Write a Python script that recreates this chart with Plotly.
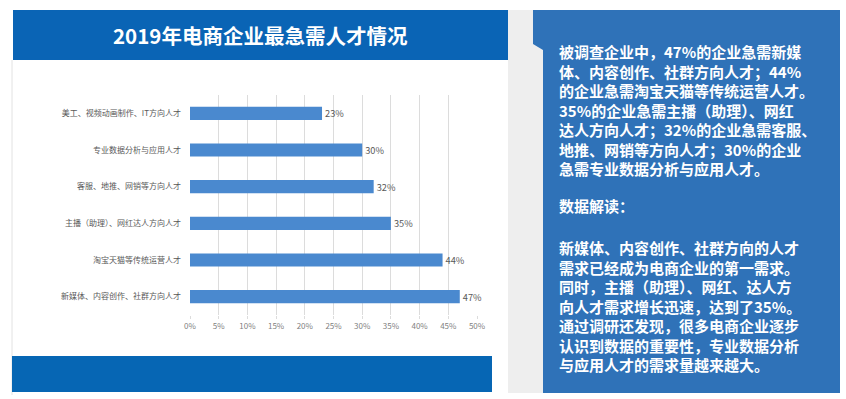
import plotly.graph_objects as go

categories = [
    "美工、视频动画制作、IT方向人才",
    "专业数据分析与应用人才",
    "客服、地推、网销等方向人才",
    "主播（助理）、网红达人方向人才",
    "淘宝天猫等传统运营人才",
    "新媒体、内容创作、社群方向人才",
]
values = [23, 30, 32, 35, 44, 47]
x_ticks = [0, 5, 10, 15, 20, 25, 30, 35, 40, 45, 50]
x_tick_labels = ["0%", "5%", "10%", "15%", "20%", "25%", "30%", "35%", "40%", "45%", "50%"]

title_text = "2019年电商企业最急需人才情况"
panel_lines_1 = [
    "被调查企业中，47%的企业急需新媒",
    "体、内容创作、社群方向人才；44%",
    "的企业急需淘宝天猫等传统运营人才。",
    "35%的企业急需主播（助理）、网红",
    "达人方向人才；32%的企业急需客服、",
    "地推、网销等方向人才；30%的企业",
    "急需专业数据分析与应用人才。",
]
panel_heading = "数据解读："
panel_lines_2 = [
    "新媒体、内容创作、社群方向的人才",
    "需求已经成为电商企业的第一需求。",
    "同时，主播（助理）、网红、达人方",
    "向人才需求增长迅速，达到了35%。",
    "通过调研还发现，很多电商企业逐步",
    "认识到数据的重要性，专业数据分析",
    "与应用人才的需求量越来越大。",
]

W, H = 846, 399
L, R, T, B = 190, 477, 95, 315  # plot area in pixels

def px(x):
    return (x - L) / (R - L)

def py(y):
    return (B - y) / (B - T)

FONT = "Noto Sans CJK SC"

fig = go.Figure()
fig.add_trace(go.Bar(
    y=categories, x=values, orientation="h",
    marker=dict(color="#4a89cf", line=dict(width=0)),
    width=0.36,
    text=[f"{v}%" for v in values], textposition="outside",
    textfont=dict(size=10.5, color="#595959", family=FONT),
    cliponaxis=False,
))

shapes = []
shapes.append(dict(type="rect", xref="paper", yref="paper", layer="below",
                   x0=px(508), x1=px(545), y0=py(393), y1=py(10),
                   fillcolor="#eeeeee", line=dict(width=0)))
shapes.append(dict(type="line", xref="paper", yref="paper", layer="below",
                   x0=px(12), x1=px(12), y0=py(395), y1=py(60),
                   line=dict(color="#e2e2e2", width=1)))
shapes.append(dict(type="rect", xref="paper", yref="paper", layer="below",
                   x0=px(13), x1=px(508), y0=py(60), y1=py(10),
                   fillcolor="#0a64b5", line=dict(width=0)))
shapes.append(dict(type="rect", xref="paper", yref="paper", layer="below",
                   x0=px(12), x1=px(492), y0=py(392), y1=py(356),
                   fillcolor="#0666b4", line=dict(width=0)))
pts = [(533, 10), (840, 10), (840, 393), (543, 393), (543, 50), (533, 44)]
path = "M " + " L ".join(f"{px(a):.5f},{py(b):.5f}" for a, b in pts) + " Z"
shapes.append(dict(type="path", xref="paper", yref="paper", layer="below",
                   path=path, fillcolor="#2f72b8", line=dict(width=0)))

panel_font = dict(size=15, color="white", family=FONT, weight="bold")
annotations = [
    dict(xref="paper", yref="paper", x=px(260), y=py(35),
         text=title_text, showarrow=False, xanchor="center", yanchor="middle",
         font=dict(size=20.5, color="white", family=FONT, weight="bold")),
    dict(xref="paper", yref="paper", x=px(557), y=py(110),
         text="<br>".join(panel_lines_1), showarrow=False, xanchor="left",
         yanchor="middle", align="left", font=panel_font),
    dict(xref="paper", yref="paper", x=px(557), y=py(205),
         text=panel_heading, showarrow=False, xanchor="left", yanchor="middle",
         font=panel_font),
    dict(xref="paper", yref="paper", x=px(557), y=py(306),
         text="<br>".join(panel_lines_2), showarrow=False, xanchor="left",
         yanchor="middle", align="left", font=panel_font),
]

fig.update_layout(
    width=W, height=H,
    margin=dict(l=L, r=W - R, t=T, b=H - B, pad=0),
    paper_bgcolor="white", plot_bgcolor="white",
    showlegend=False,
    font=dict(family=FONT),
    shapes=shapes,
    annotations=annotations,
    xaxis=dict(range=[0, 50], tickmode="array", tickvals=x_ticks, ticktext=x_tick_labels,
               showgrid=True, gridcolor="#dcdcdc", gridwidth=1,
               zeroline=False, showline=False,
               ticks="outside", ticklen=3, tickcolor="#dcdcdc",
               tickfont=dict(size=8, color="#7f7f7f", family=FONT),
               fixedrange=True),
    yaxis=dict(autorange="reversed", showgrid=False, zeroline=False, showline=False,
               ticks="", ticklabelstandoff=8,
               tickfont=dict(size=8, color="#595959", family=FONT),
               fixedrange=True),
)

fig.write_html("out.html", config={"displayModeBar": False},
               post_script="document.body.style.margin='0';document.body.style.overflow='hidden';")
